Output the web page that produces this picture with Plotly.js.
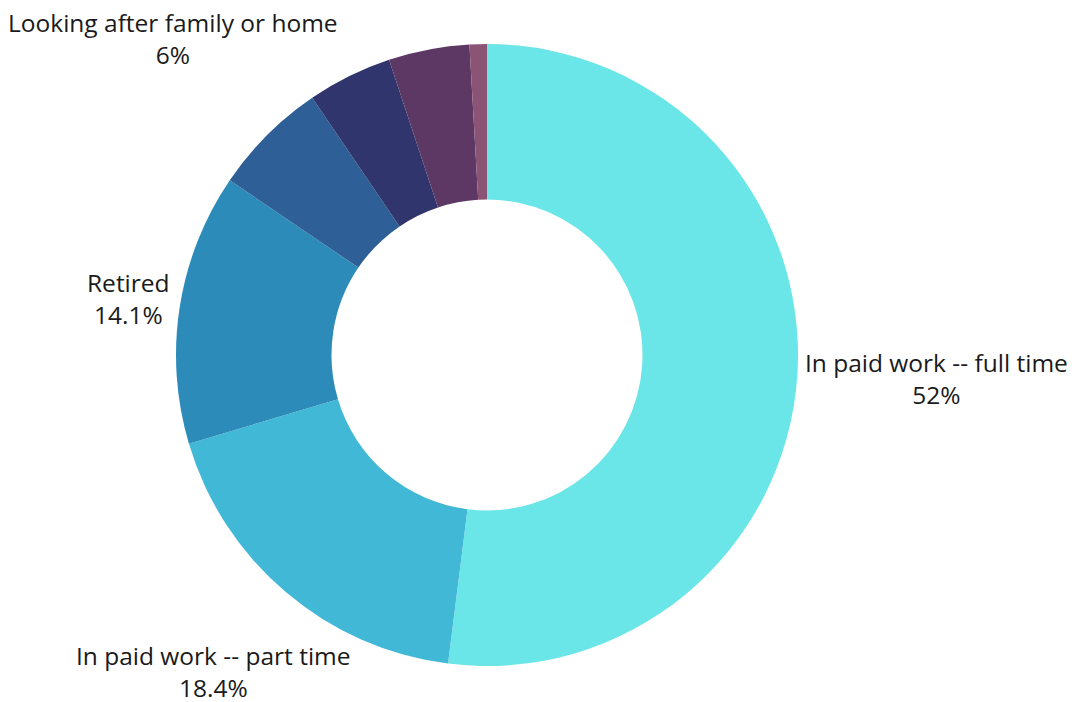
<!DOCTYPE html>
<html>
<head>
<meta charset="utf-8">
<script src="https://cdn.plot.ly/plotly-3.0.1.min.js"></script>
<style>
  html, body { margin: 0; padding: 0; background: #fff; }
  #chart { width: 1072px; height: 702px; }
</style>
</head>
<body>
<div id="chart"></div>
<script>
// Situation economique des répondants
const categories = [
    'In paid work -- full time',
    'In paid work -- part time',
    'Retired',
    'Looking after family or home',
    'Unemployed and looking for work',
    'In education',
    'Other'
];
const values = [52, 18.4, 14.1, 6, 4.4, 4.2, 0.9];
const sliceColors = ['#6ae5e8', '#42b8d7', '#2d8bb9', '#2e5f96', '#30356d', '#5d3864', '#8b5475'];

// étiquettes extérieures (seulement les 4 plus grandes parts), centre en pixels
const labelCenters = [[936, 378], [213, 672], [128, 298], [173, 39]];

const W = 1072, H = 702;
const margin = { l: 20, r: 118, t: 44, b: 36 };
const plotW = W - margin.l - margin.r;
const plotH = H - margin.t - margin.b;

const data = [
    {
        type: 'pie',
        labels: categories,
        values: values,
        hole: 0.5,
        sort: false,
        direction: 'clockwise',
        rotation: 0,
        marker: {
            colors: sliceColors,
            line: { width: 0 }
        },
        textinfo: 'none',
        hoverinfo: 'label+value',
        showlegend: false
    }
];

const annotations = labelCenters.map((c, i) => ({
    xref: 'paper',
    yref: 'paper',
    x: (c[0] - margin.l) / plotW,
    y: (H - margin.b - c[1]) / plotH,
    xanchor: 'center',
    yanchor: 'middle',
    align: 'center',
    showarrow: false,
    text: categories[i] + '<br>' + values[i] + '%',
    font: { family: 'Open Sans', size: 24.5, color: '#1a1a1a' }
}));

const layout = {
    width: W,
    height: H,
    margin: margin,
    paper_bgcolor: '#ffffff',
    plot_bgcolor: '#ffffff',
    font: { family: 'Open Sans' },
    annotations: annotations
};

Plotly.newPlot('chart', data, layout, { displayModeBar: false });
</script>
</body>
</html>
